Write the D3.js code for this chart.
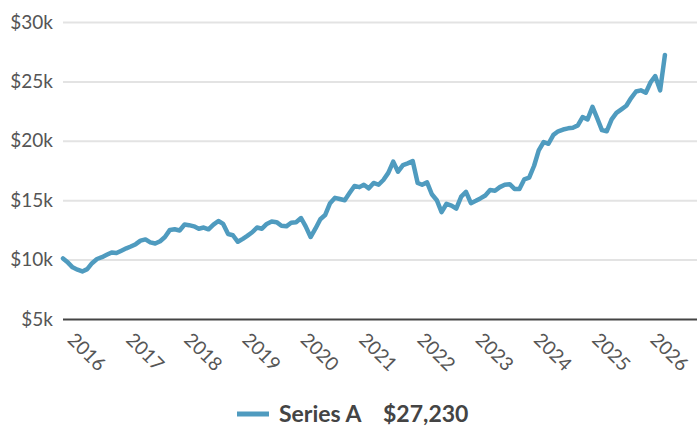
<!DOCTYPE html>
<html>
<head>
<meta charset="utf-8">
<script src="https://cdn.jsdelivr.net/npm/d3@7"></script>
<style>
  body { margin: 0; background: #fff; font-family: Lato, "Open Sans", sans-serif; }
  svg text { font-family: Lato, sans-serif; }
</style>
</head>
<body>
<script>
// monthly values in $k, Jan 2016 .. May 2026
const startYear = 2016;
const values = [
  10.1, 9.75, 9.35, 9.15, 9.0, 9.2, 9.7, 10.05, 10.2, 10.4, 10.6, 10.55,
  10.75, 10.95, 11.1, 11.3, 11.6, 11.7, 11.45, 11.35, 11.55, 11.9, 12.5, 12.55,
  12.45, 12.95, 12.9, 12.8, 12.6, 12.7, 12.55, 12.95, 13.25, 13.0, 12.15, 12.05,
  11.5, 11.75, 12.0, 12.3, 12.7, 12.6, 13.0, 13.2, 13.15, 12.85, 12.8, 13.1,
  13.15, 13.5, 12.8, 11.9, 12.6, 13.4, 13.75, 14.75, 15.2, 15.1, 15.0, 15.6,
  16.2, 16.1, 16.3, 16.0, 16.45, 16.3, 16.7, 17.3, 18.25, 17.4, 17.95, 18.1,
  18.3, 16.45, 16.3, 16.5, 15.5, 15.0, 14.0, 14.7, 14.55, 14.3, 15.3, 15.7,
  14.75, 14.95, 15.15, 15.4, 15.85, 15.8, 16.1, 16.3, 16.35, 15.95, 15.95, 16.75,
  16.9, 17.9, 19.2, 19.9, 19.75, 20.5, 20.8, 20.95, 21.05, 21.1, 21.3, 22.0,
  21.8, 22.85, 21.95, 20.9, 20.8, 21.8, 22.35, 22.65, 22.95, 23.6, 24.15, 24.25,
  24.05, 24.95, 25.45, 24.25, 27.23
];
const yTicks = [5, 10, 15, 20, 25, 30];
const xTickYears = [2016, 2017, 2018, 2019, 2020, 2021, 2022, 2023, 2024, 2025, 2026];
const seriesName = 'Series A';
const lastLabel = '$27,230';

const W = 698, H = 426;
const margin = { l: 63, r: 1, t: 22, b: 107 };

const data = values.map((v, i) => ({ date: new Date(startYear, i, 1), value: v }));

const svg = d3.select('body').append('svg')
  .attr('width', W)
  .attr('height', H);

const x = d3.scaleTime()
  .domain([new Date(startYear, 0, 1), new Date(2026, 10, 18)])
  .range([margin.l, W - margin.r]);

const y = d3.scaleLinear()
  .domain([5, 30])
  .range([H - margin.b, margin.t]);

// grid + y labels
const yAxis = d3.axisLeft(y)
  .tickValues(yTicks)
  .tickSize(-(W - margin.r - margin.l))
  .tickPadding(10)
  .tickFormat(d => '$' + d + 'k');

const gy = svg.append('g')
  .attr('transform', `translate(${margin.l},0)`)
  .call(yAxis);
gy.select('.domain').remove();
gy.selectAll('.tick line')
  .attr('stroke', '#e3e3e3')
  .attr('stroke-width', 2);
gy.selectAll('.tick text')
  .attr('fill', '#555')
  .style('font-size', '19px');
// baseline drawn darker
gy.selectAll('.tick').filter(d => d === 5).select('line')
  .attr('stroke', '#444');

// x axis
const xAxis = d3.axisBottom(x)
  .tickValues(xTickYears.map(yr => new Date(yr, 0, 1)))
  .tickSize(0)
  .tickFormat(d3.timeFormat('%Y'));

const gx = svg.append('g')
  .attr('transform', `translate(0,${H - margin.b})`)
  .call(xAxis);
gx.select('.domain').remove();
gx.selectAll('.tick text')
  .attr('fill', '#555')
  .style('font-size', '19px')
  .attr('text-anchor', 'start')
  .attr('y', 0)
  .attr('dy', 0)
  .attr('transform', 'translate(3,22) rotate(45)');

// line
const line = d3.line()
  .x(d => x(d.date))
  .y(d => y(d.value));

svg.append('path')
  .datum(data)
  .attr('fill', 'none')
  .attr('stroke', '#4f9bbf')
  .attr('stroke-width', 4.5)
  .attr('stroke-linejoin', 'round')
  .attr('stroke-linecap', 'round')
  .attr('d', line);

// legend
const legend = svg.append('g')
  .attr('transform', 'translate(237,414)');
legend.append('line')
  .attr('x1', 0).attr('x2', 32)
  .attr('stroke', '#4f9bbf')
  .attr('stroke-width', 5);
legend.append('text')
  .attr('x', 42)
  .attr('y', 8)
  .attr('fill', '#444')
  .style('font-size', '23px')
  .style('font-weight', 'bold')
  .text(seriesName);
legend.append('text')
  .attr('x', 146)
  .attr('y', 8)
  .attr('fill', '#444')
  .style('font-size', '23px')
  .style('font-weight', 'bold')
  .text(lastLabel);
</script>
</body>
</html>
